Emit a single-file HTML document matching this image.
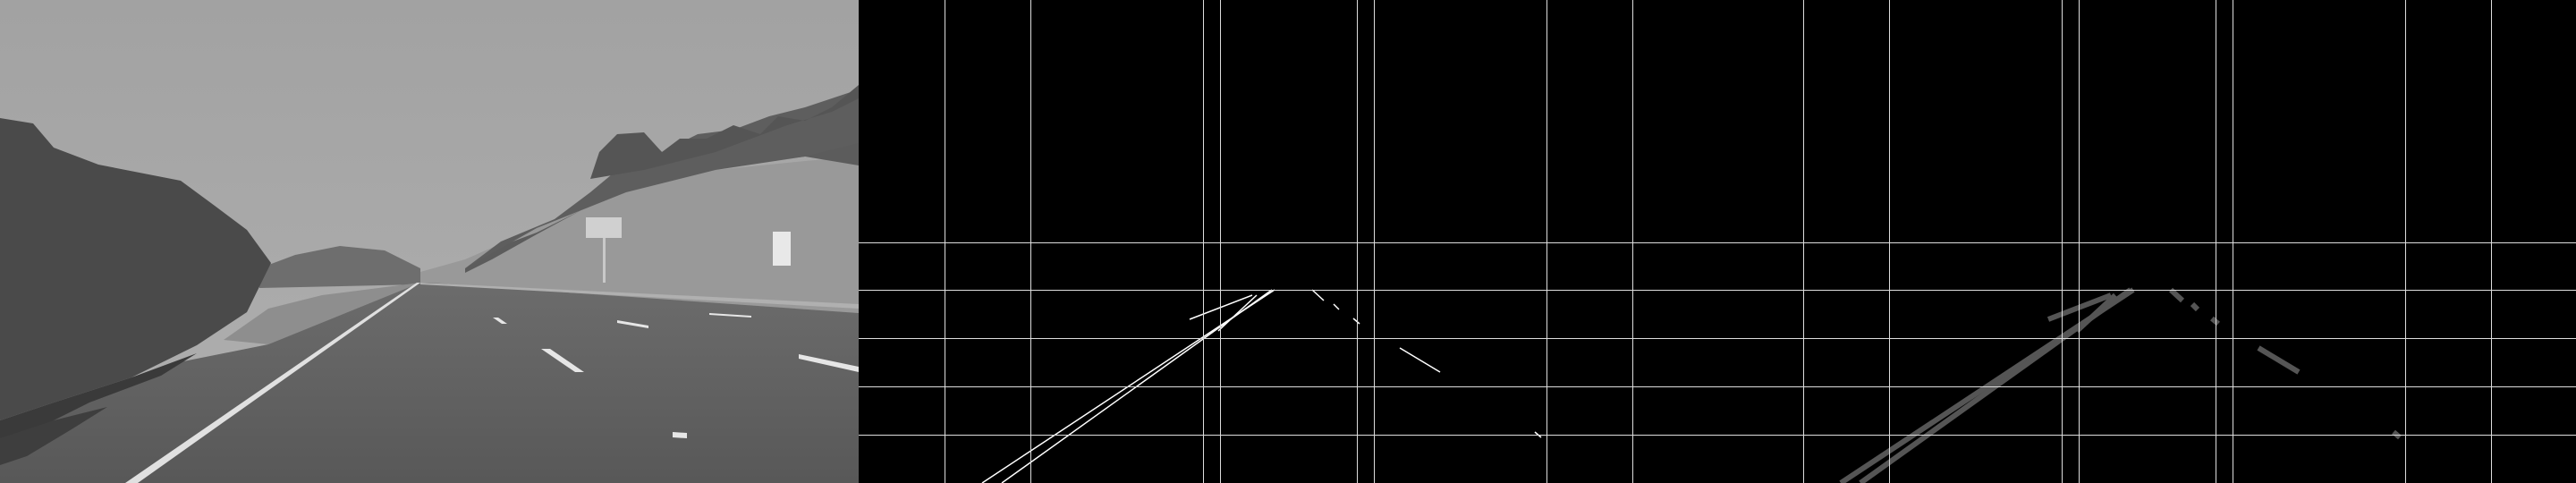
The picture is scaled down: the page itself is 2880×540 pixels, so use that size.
<!DOCTYPE html>
<html><head><meta charset="utf-8"><style>
html,body{margin:0;padding:0;background:#000;width:2880px;height:540px;overflow:hidden}
svg{display:block}
</style></head><body>
<svg id="s" width="2880" height="540">
<g id="photo">
  <defs>
    <linearGradient id="sky" x1="0" y1="0" x2="0" y2="1"><stop offset="0" stop-color="#a2a2a2"/><stop offset="1" stop-color="#b0b0b0"/></linearGradient>
    <linearGradient id="road" x1="0" y1="0" x2="0" y2="1"><stop offset="0" stop-color="#6c6c6c"/><stop offset="1" stop-color="#585858"/></linearGradient>
  </defs>
  <rect x="0" y="0" width="960" height="540" fill="url(#sky)"/>
  <polygon points="420,318 520,290 600,255 700,215 800,190 900,180 960,175 960,350 470,316" fill="#999"/>
  <polygon points="520,300 560,275 600,260 640,240 680,220 720,205 760,195 800,185 860,175 920,160 960,150 960,185 900,175 860,180 820,185 780,190 740,200 700,210 650,235 600,262 550,290 520,305" fill="#5c5c5c"/>
  <polygon points="520,300 560,270 620,245 660,215 690,190 700,160 720,150 740,170 760,160 780,150 820,145 860,130 900,120 930,110 960,100 960,160 900,175 800,190 700,215 600,255" fill="#5e5e5e"/>
  <polygon points="670,170 690,150 720,148 740,170 760,155 790,155 820,140 850,150 870,130 900,135 930,120 960,95 960,110 930,125 880,140 800,170 720,190 660,200" fill="#555"/>
  <polygon points="290,300 330,285 380,275 430,280 470,300 470,318 290,322" fill="#6e6e6e"/>
  <polygon points="250,380 300,345 360,330 470,316 300,385" fill="#8e8e8e"/>
  <polygon points="0,540 0,480 200,405 300,385 470,316 480,316 960,350 960,540" fill="url(#road)"/>
  <polygon points="0,132 37,138 60,165 110,184 202,202 240,230 276,257 303,294 276,349 220,386 147,422 60,450 0,470" fill="#4a4a4a"/>
  <polygon points="0,470 60,450 147,422 220,395 180,420 100,450 40,480 0,490" fill="#3a3a3a"/>
  <polygon points="0,490 60,470 120,455 80,480 30,510 0,520" fill="#3e3e3e"/>
  <polygon points="140,540 154,540 470,316 466,316" fill="#e0e0e0"/>
  <g fill="#e6e6e6">
    <polygon points="605,390 615,390 653,416 643,416"/>
    <polygon points="551,355 557,355 567,362 561,362"/>
    <polygon points="690,358 725,364 725,367 690,361"/>
    <polygon points="893,396 960,410 960,416 893,401"/>
    <polygon points="793,350 840,353 840,355 793,352"/>
    <polygon points="752,483 768,484 768,490 752,489"/>
  </g>
  <polygon points="470,316 960,340 960,345 470,318" fill="#b0b0b0"/>
  <rect x="655" y="243" width="40" height="23" fill="#d0d0d0"/>
  <rect x="674" y="266" width="3" height="50" fill="#c8c8c8"/>
  <rect x="864" y="259" width="20" height="38" fill="#e8e8e8"/>
</g>
<g id="edges"></g>
<g id="lines"></g>
<g id="grid"></g>
</svg>
<script>
// Segment endpoints (panel-local coordinates)
const laneSegments = [[138,540,465,324],[160,540,462,324],[370,357,440,330],[402,370,445,330]];
const markerSegments = [[507,324,520,336],[531,340,537,346],[553,356,560,362],[605,389,650,416],[756,483,763,489]];
const gridX = [96,192,385,404,557,576,769,865];
const gridY = [271,324,378,432,486];
const panelW = 960;
const NS = "http://www.w3.org/2000/svg";
function px(panel, x){ return panel*panelW + x; }
const edges = document.getElementById('edges');
const lines = document.getElementById('lines');
const grid = document.getElementById('grid');
function mk(tag, attrs){ const e=document.createElementNS(NS,tag); for(const k in attrs) e.setAttribute(k,attrs[k]); return e; }
laneSegments.concat(markerSegments).forEach(s=>{
  const a = mk('line',{x1:px(1,s[0]),y1:s[1],x2:px(1,s[2]),y2:s[3],stroke:'#fff','stroke-width':1.5});
  
  
  edges.appendChild(a);
  const b = mk('line',{x1:px(2,s[0]),y1:s[1],x2:px(2,s[2]),y2:s[3],stroke:'#555','stroke-width':6});
  
  
  lines.appendChild(b);
});
[1,2].forEach(p=>{
  gridX.forEach(x=>{
    const l = mk('line',{x1:px(p,x)+0.5,y1:0,x2:px(p,x)+0.5,y2:540,stroke:'#ddd','stroke-width':1});
    
    
    grid.appendChild(l);
  });
  gridY.forEach(y=>{
    const l = mk('line',{x1:px(p,0),y1:y+0.5,x2:px(p,960),y2:y+0.5,stroke:'#ddd','stroke-width':1});
    
    
    grid.appendChild(l);
  });
});
</script>
</body></html>
